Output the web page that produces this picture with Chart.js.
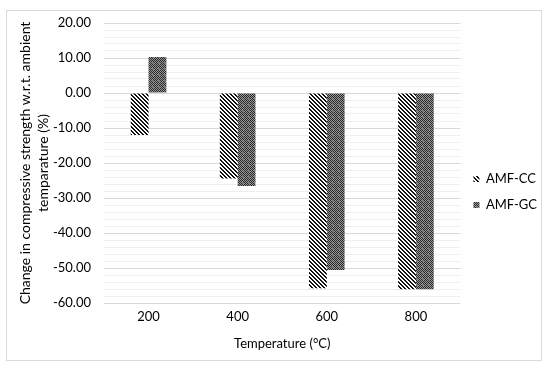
<!DOCTYPE html>
<html>
<head>
<meta charset="utf-8">
<script src="https://cdn.jsdelivr.net/npm/chart.js@4.4.1/dist/chart.umd.min.js"></script>
<style>
  html, body { margin: 0; padding: 0; background: #fff; }
  #wrap { width: 550px; height: 369px; }
</style>
</head>
<body>
<div id="wrap"><canvas id="chart" width="550" height="369"></canvas></div>
<script>
// data
const temperatures = ['200', '400', '600', '800'];
const amfCC = [-12.0, -24.4, -55.8, -56.1];
const amfGC = [10.3, -26.6, -50.6, -56.1];
const seriesNames = ['AMF-CC', 'AMF-GC'];

// diagonal hatch, like the Excel pattern fill
function hatchPattern() {
    const c = document.createElement('canvas');
    c.width = 4; c.height = 4;
    const g = c.getContext('2d');
    g.fillStyle = '#fff';
    g.fillRect(0, 0, 4, 4);
    g.fillStyle = '#111';
    for (let y = 0; y < 4; y++) {
        for (let x = 0; x < 4; x++) {
            if (((x - y) % 4 + 4) % 4 < 2) g.fillRect(x, y, 1, 1);
        }
    }
    return g.createPattern(c, 'repeat');
}

// dark checker with lighter dots
function checkPattern() {
    const c = document.createElement('canvas');
    c.width = 6; c.height = 6;
    const g = c.getContext('2d');
    for (let y = 0; y < 6; y++) {
        for (let x = 0; x < 6; x++) {
            g.fillStyle = (x + y) % 2 ? '#959595' : '#2a2a2a';
            g.fillRect(x, y, 1, 1);
        }
    }
    g.fillStyle = '#777';
    g.fillRect(2, 2, 2, 2);
    return g.createPattern(c, 'repeat');
}

const frame = {
    id: 'frame',
    beforeDraw(chart) {
        const ctx = chart.ctx;
        ctx.save();
        ctx.fillStyle = '#fff';
        ctx.fillRect(0, 0, chart.width, chart.height);
        ctx.strokeStyle = '#d9d9d9';
        ctx.lineWidth = 1;
        ctx.strokeRect(6.5, 10.5, 535, 350);
        ctx.restore();
    }
};

Chart.defaults.font.family = 'Lato, "Open Sans", sans-serif';
Chart.defaults.font.size = 13;
Chart.defaults.color = '#000';

new Chart(document.getElementById('chart').getContext('2d'), {
    type: 'bar',
    data: {
        labels: temperatures,
        datasets: [
            { label: seriesNames[0], data: amfCC, backgroundColor: hatchPattern(), borderWidth: 0 },
            { label: seriesNames[1], data: amfGC, backgroundColor: checkPattern(), borderWidth: 0 }
        ]
    },
    options: {
        responsive: false,
        animation: false,
        devicePixelRatio: 1,
        categoryPercentage: 0.4,
        barPercentage: 1.0,
        layout: { padding: { left: 6, top: 23, right: 3, bottom: 8 } },
        plugins: {
            legend: {
                position: 'right',
                labels: { boxWidth: 6, boxHeight: 6, padding: 13, font: { size: 13 } }
            },
            tooltip: { enabled: false }
        },
        scales: {
            x: {
                afterFit(scale) { scale.height = 58; },
                grid: { display: false, drawTicks: false },
                border: { display: false },
                ticks: { padding: 6 },
                title: { display: true, text: 'Temperature (°C)', padding: { top: 0, bottom: 9 } }
            },
            y: {
                min: -60,
                max: 20,
                afterFit(scale) { scale.width = 98; },
                border: { display: false },
                grid: {
                    color: ctx => (ctx.tick && ctx.tick.value % 10 === 0) ? '#d9d9d9' : '#efefef',
                    drawTicks: false
                },
                ticks: {
                    stepSize: 2,
                    autoSkip: false,
                    padding: 13,
                    callback: v => (v % 10 === 0 ? v.toFixed(2) : '')
                },
                title: {
                    display: true,
                    text: ['Change in compressive strength w.r.t. ambient', 'temparature (%)'],
                    font: { size: 14, lineHeight: 1.25 },
                    padding: { top: 11, bottom: 0 }
                }
            }
        }
    },
    plugins: [frame]
});
</script>
</body>
</html>
